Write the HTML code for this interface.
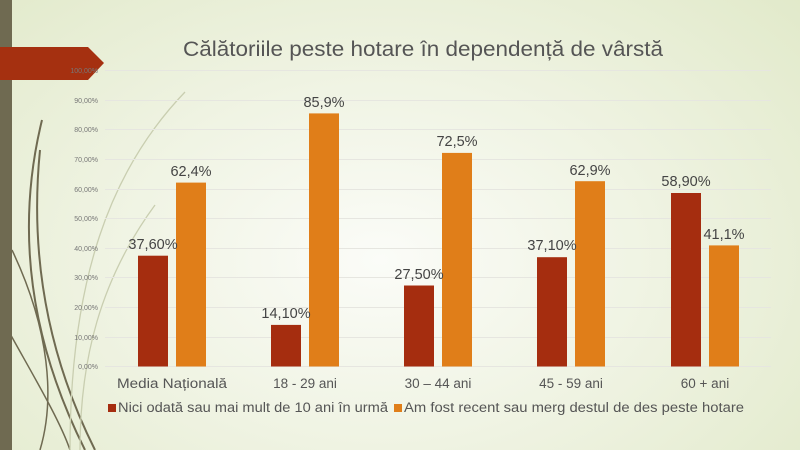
<!DOCTYPE html>
<html><head><meta charset="utf-8"><style>
html,body{margin:0;padding:0}
body{width:800px;height:450px;overflow:hidden;background:radial-gradient(ellipse 620px 420px at 380px 260px,#fbfcf8 0%,#eff3e2 45%,#dfe8c6 100%);font-family:"Liberation Sans","DejaVu Sans",sans-serif}
</style></head><body>
<svg width="800" height="450" xmlns="http://www.w3.org/2000/svg" style="position:absolute;left:0;top:0">
<g fill="none" stroke="#6f6a51" stroke-width="2">
<path d="M40 150 C30 250 45 350 95 450"/>
<path d="M42 120 C15 230 30 340 85 450"/>
<path d="M12 250 C50 330 55 400 40 450" stroke-width="1.5"/>
<path d="M8 330 C30 370 60 420 70 450" stroke-width="1.5"/>
</g>
<g fill="none" stroke="#c9ceb0" stroke-width="1.3">
<path d="M185 92 C110 170 70 280 70 450"/>
<path d="M155 205 C100 280 80 360 80 450"/>
</g>
<rect x="0" y="0" width="12" height="450" fill="#6f6a51"/>
<polygon points="0,47 88,47 104,63 88,80 0,80" fill="#a53010"/>
<text x="183" y="56" font-size="21" fill="#555" textLength="480" lengthAdjust="spacingAndGlyphs">Călătoriile peste hotare în dependență de vârstă</text>
<g stroke="#e6e6e0" stroke-width="1">
<line x1="105" x2="771" y1="70.5" y2="70.5"/><line x1="105" x2="771" y1="100.5" y2="100.5"/><line x1="105" x2="771" y1="129.5" y2="129.5"/><line x1="105" x2="771" y1="159.5" y2="159.5"/><line x1="105" x2="771" y1="189.5" y2="189.5"/><line x1="105" x2="771" y1="218.5" y2="218.5"/><line x1="105" x2="771" y1="248.5" y2="248.5"/><line x1="105" x2="771" y1="277.5" y2="277.5"/><line x1="105" x2="771" y1="307.5" y2="307.5"/><line x1="105" x2="771" y1="337.5" y2="337.5"/><line x1="105" x2="771" y1="366.5" y2="366.5"/>
</g>
<g font-size="7" fill="#777" text-anchor="end">
<text x="98" y="73">100,00%</text><text x="98" y="103">90,00%</text><text x="98" y="132">80,00%</text><text x="98" y="162">70,00%</text><text x="98" y="192">60,00%</text><text x="98" y="221">50,00%</text><text x="98" y="251">40,00%</text><text x="98" y="280">30,00%</text><text x="98" y="310">20,00%</text><text x="98" y="340">10,00%</text><text x="98" y="369">0,00%</text>
</g>
<g fill="#a52d0f">
<rect x="138" y="255.7" width="30" height="110.8"/>
<rect x="271" y="324.9" width="30" height="41.6"/>
<rect x="404" y="285.5" width="30" height="81"/>
<rect x="537" y="257.2" width="30" height="109.3"/>
<rect x="671" y="193" width="30" height="173.5"/>
</g>
<g fill="#e07e19">
<rect x="176" y="182.6" width="30" height="183.9"/>
<rect x="309" y="113.4" width="30" height="253.1"/>
<rect x="442" y="152.9" width="30" height="213.6"/>
<rect x="575" y="181.2" width="30" height="185.3"/>
<rect x="709" y="245.4" width="30" height="121.1"/>
</g>
<g font-size="14.5" fill="#444" text-anchor="middle">
<text x="153" y="249">37,60%</text><text x="191" y="176">62,4%</text>
<text x="286" y="318">14,10%</text><text x="324" y="107">85,9%</text>
<text x="419" y="279">27,50%</text><text x="457" y="146">72,5%</text>
<text x="552" y="250">37,10%</text><text x="590" y="175">62,9%</text>
<text x="686" y="186">58,90%</text><text x="724" y="239">41,1%</text>
</g>
<g font-size="13.5" fill="#555" text-anchor="middle">
<text x="172" y="388" textLength="110" lengthAdjust="spacingAndGlyphs">Media Națională</text><text x="305" y="388">18 - 29 ani</text><text x="438" y="388">30 – 44 ani</text><text x="571" y="388">45 - 59 ani</text><text x="705" y="388">60 + ani</text>
</g>
<rect x="108" y="404" width="8" height="8" fill="#a52d0f"/>
<text x="118" y="412" font-size="13.5" fill="#555" textLength="270" lengthAdjust="spacingAndGlyphs">Nici odată sau mai mult de 10 ani în urmă</text>
<rect x="394" y="404" width="8" height="8" fill="#e07e19"/>
<text x="404" y="412" font-size="13.5" fill="#555" textLength="340" lengthAdjust="spacingAndGlyphs">Am fost recent sau merg destul de des peste hotare</text>
</svg>
</body></html>
